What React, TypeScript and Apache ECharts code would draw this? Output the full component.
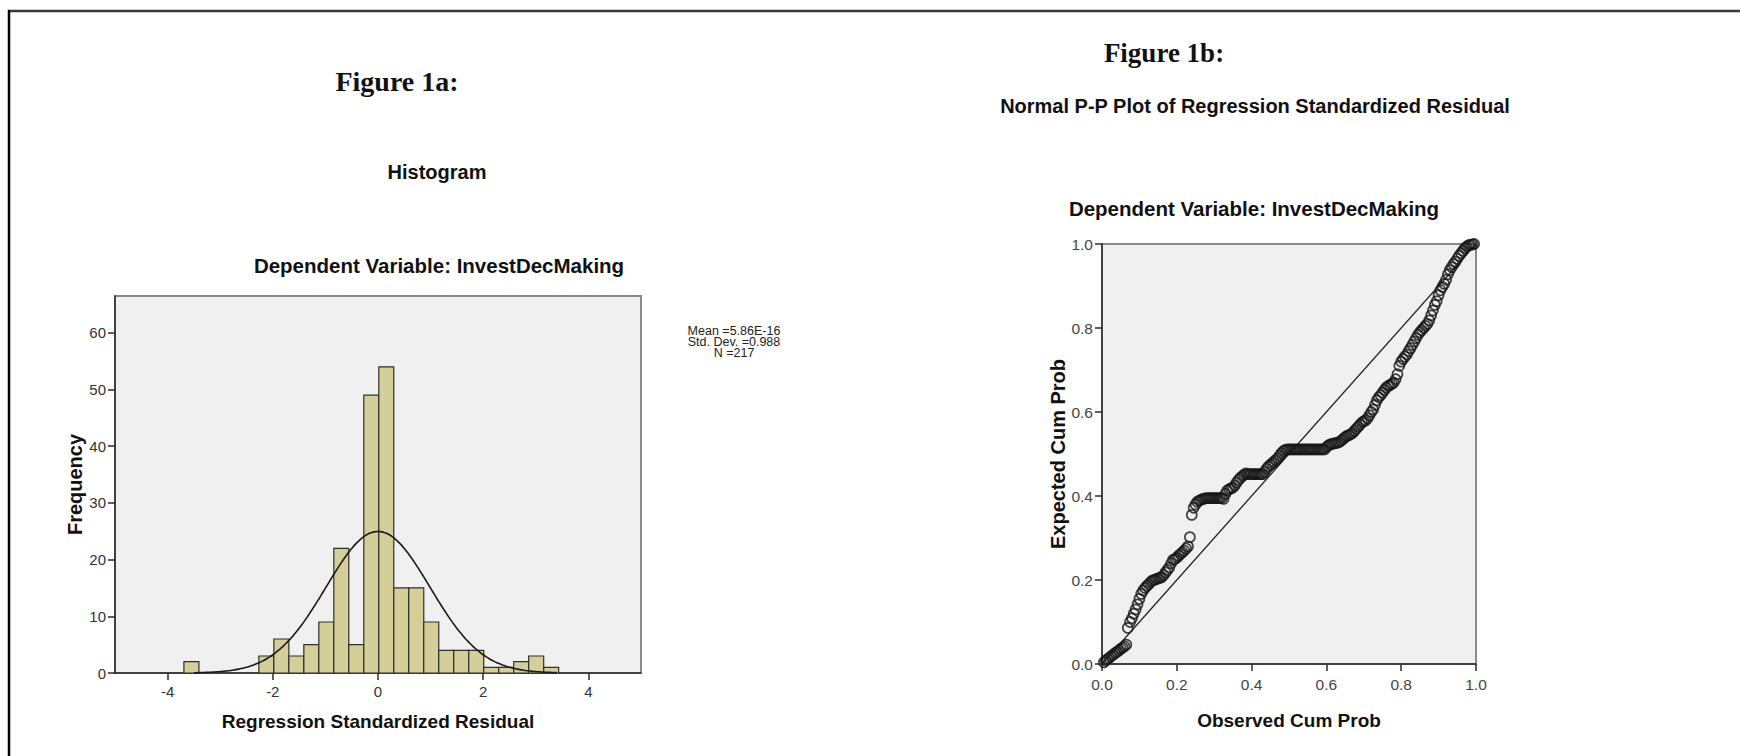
import React, { useEffect, useRef } from "react";
import * as echarts from "echarts";

// ---------- Histogram data (Figure 1a) ----------
const binStart = -3.69;
const binWidth = 0.285;
const binCounts = [2, 0, 0, 0, 0, 3, 6, 3, 5, 9, 22, 5, 49, 54, 15, 15, 9, 4, 4, 4, 1, 1, 2, 3, 1];
const histXTicks = [-4, -2, 0, 2, 4];
const histYTicks = [0, 10, 20, 30, 40, 50, 60];
const statMean = 5.86e-16;
const statSD = 0.988;
const statN = 217;
const statLines = ["Mean =5.86E-16", "Std. Dev. =0.988", "N =217"];

// ---------- P-P plot data (Figure 1b) ----------
const ppObs = [
  0.005, 0.01, 0.015, 0.02, 0.025, 0.03, 0.035, 0.04, 0.045, 0.05, 0.055, 0.06, 0.065,
  0.069, 0.075, 0.08, 0.085, 0.09, 0.095, 0.1, 0.105, 0.11, 0.115, 0.12, 0.125, 0.13, 0.135, 0.14, 0.145,
  0.15, 0.155, 0.16, 0.165, 0.17, 0.175, 0.18, 0.185, 0.19, 0.195, 0.2, 0.205, 0.21, 0.215, 0.22, 0.225,
  0.23, 0.235,
  0.24, 0.245, 0.25, 0.255, 0.26, 0.265, 0.27, 0.275, 0.28, 0.285, 0.29, 0.295, 0.3, 0.305, 0.31, 0.315,
  0.32, 0.325, 0.33, 0.335, 0.34, 0.345, 0.35, 0.355, 0.36, 0.365, 0.37, 0.375, 0.38, 0.385, 0.39, 0.395,
  0.4, 0.405, 0.41, 0.415, 0.42, 0.425, 0.43, 0.435, 0.44, 0.445, 0.45, 0.455, 0.46, 0.465, 0.47, 0.475,
  0.48, 0.485, 0.49, 0.495, 0.5, 0.505, 0.51, 0.515, 0.52, 0.525, 0.53, 0.535, 0.54, 0.545, 0.55, 0.555,
  0.56, 0.565, 0.57, 0.575, 0.58, 0.585, 0.59, 0.595, 0.6, 0.605, 0.61, 0.615, 0.62, 0.625, 0.63, 0.635,
  0.64, 0.645, 0.65, 0.655, 0.66, 0.665, 0.67, 0.675, 0.68, 0.685, 0.69, 0.695, 0.7, 0.705, 0.71, 0.715,
  0.72, 0.725, 0.73, 0.735, 0.74, 0.745, 0.75, 0.755, 0.76, 0.765, 0.77, 0.775, 0.78, 0.785, 0.79, 0.795,
  0.8, 0.805, 0.81, 0.815, 0.82, 0.825, 0.83, 0.835, 0.84, 0.845, 0.85, 0.855, 0.86, 0.865, 0.87, 0.875,
  0.88, 0.885, 0.89, 0.895, 0.9, 0.905, 0.91, 0.915, 0.92, 0.925, 0.93, 0.935, 0.94, 0.945, 0.95, 0.955,
  0.96, 0.965, 0.97, 0.975, 0.98, 0.985, 0.99, 0.995,
];
const ppExp = [
  0.004, 0.008, 0.012, 0.015, 0.019, 0.022, 0.026, 0.029, 0.032, 0.036, 0.039, 0.042, 0.046,
  0.086, 0.1, 0.109, 0.12, 0.13, 0.142, 0.155, 0.167, 0.175, 0.181, 0.186, 0.19, 0.195, 0.199, 0.2, 0.202,
  0.204, 0.205, 0.207, 0.212, 0.218, 0.224, 0.23, 0.24, 0.248, 0.25, 0.253, 0.258, 0.262, 0.266, 0.27, 0.275,
  0.28, 0.302,
  0.355, 0.372, 0.38, 0.386, 0.389, 0.391, 0.393, 0.394, 0.395, 0.395, 0.395, 0.395, 0.395, 0.395, 0.395, 0.395,
  0.395, 0.393, 0.405, 0.413, 0.416, 0.418, 0.42, 0.425, 0.432, 0.438, 0.443, 0.447, 0.451, 0.454, 0.452, 0.452,
  0.452, 0.452, 0.452, 0.452, 0.452, 0.452, 0.452, 0.458, 0.465, 0.47, 0.474, 0.478, 0.482, 0.486, 0.49, 0.496,
  0.502, 0.507, 0.51, 0.511, 0.511, 0.511, 0.511, 0.511, 0.511, 0.511, 0.511, 0.511, 0.511, 0.511, 0.511, 0.511,
  0.511, 0.511, 0.511, 0.511, 0.511, 0.511, 0.511, 0.511, 0.516, 0.52, 0.523, 0.524, 0.525, 0.526, 0.527, 0.529,
  0.532, 0.536, 0.54, 0.543, 0.545, 0.547, 0.55, 0.555, 0.56, 0.565, 0.57, 0.575, 0.578, 0.58, 0.585, 0.592,
  0.6, 0.606, 0.617, 0.628, 0.635, 0.64, 0.646, 0.652, 0.658, 0.662, 0.664, 0.667, 0.67, 0.678, 0.69, 0.71,
  0.72, 0.726, 0.732, 0.737, 0.745, 0.752, 0.76, 0.768, 0.776, 0.784, 0.79, 0.795, 0.8, 0.805, 0.81, 0.818,
  0.83, 0.842, 0.855, 0.864, 0.878, 0.89, 0.898, 0.905, 0.915, 0.928, 0.938, 0.945, 0.952, 0.958, 0.965, 0.972,
  0.978, 0.984, 0.99, 0.994, 0.997, 0.998, 0.999, 1.0,
];
const ppTicks = [0, 0.2, 0.4, 0.6, 0.8, 1.0];

const SANS = "'Liberation Sans', Arial, sans-serif";
const SERIF = "'Liberation Serif', 'Times New Roman', serif";

export default function App() {
  const ref = useRef<HTMLDivElement>(null);

  useEffect(() => {
    if (!ref.current) return;
    const chart = echarts.init(ref.current, undefined, { renderer: "svg" });

    const histData = binCounts
      .map((c, i) => [binStart + i * binWidth, binStart + (i + 1) * binWidth, c])
      .filter((d) => d[2] > 0);

    // normal curve fitted with the displayed mean / sd / N
    const curve: number[][] = [];
    for (let x = -3.5; x <= 3.4001; x += 0.05) {
      const z = (x - statMean) / statSD;
      curve.push([x, (statN * binWidth) / (statSD * Math.sqrt(2 * Math.PI)) * Math.exp(-0.5 * z * z)]);
    }

    const ppPoints = ppObs.map((x, i) => [x, ppExp[i]]);

    const axisLine = { show: true, onZero: false, lineStyle: { color: "#2a2a2a", width: 1.5 } };
    const axisTick = (vals: number[]) => ({
      show: true,
      inside: false,
      length: 7,
      customValues: vals,
      lineStyle: { color: "#2a2a2a", width: 1.5 },
    });

    const text = (x: number, y: number, t: string, size: number, weight: string, family: string, rotation = 0, color = "#111") => ({
      type: "text",
      x,
      y,
      rotation,
      style: {
        text: t,
        fontSize: size,
        fontWeight: weight,
        fontFamily: family,
        fill: color,
        align: "center",
        verticalAlign: "middle",
      },
    });

    chart.setOption({
      animation: false,
      backgroundColor: "#ffffff",
      grid: [
        { left: 115, top: 296, width: 526, height: 377, show: true, backgroundColor: "#f0f0f0", borderColor: "#8a8a8a", borderWidth: 2, containLabel: false },
        { left: 1102, top: 244, width: 374, height: 420, show: true, backgroundColor: "#f0f0f0", borderColor: "#8a8a8a", borderWidth: 2, containLabel: false },
      ],
      xAxis: [
        {
          gridIndex: 0,
          type: "value",
          min: -5,
          max: 5,
          splitLine: { show: false },
          axisLine,
          axisTick: axisTick(histXTicks),
          axisLabel: { customValues: histXTicks, fontSize: 15, color: "#333", fontFamily: SANS, margin: 11 },
          name: "Regression Standardized Residual",
          nameLocation: "middle",
          nameGap: 39,
          nameTextStyle: { fontSize: 19, fontWeight: "bold", color: "#111", fontFamily: SANS },
        },
        {
          gridIndex: 1,
          type: "value",
          min: 0,
          max: 1,
          splitLine: { show: false },
          axisLine,
          axisTick: axisTick(ppTicks),
          axisLabel: {
            customValues: ppTicks,
            formatter: (v: number) => v.toFixed(1),
            fontSize: 15.5,
            color: "#444",
            fontFamily: SANS,
            margin: 12,
          },
          name: "Observed Cum Prob",
          nameLocation: "middle",
          nameGap: 47,
          nameTextStyle: { fontSize: 19, fontWeight: "bold", color: "#111", fontFamily: SANS },
        },
      ],
      yAxis: [
        {
          gridIndex: 0,
          type: "value",
          min: 0,
          max: 66.5,
          splitLine: { show: false },
          axisLine,
          axisTick: axisTick(histYTicks),
          axisLabel: { customValues: histYTicks, fontSize: 15, color: "#333", fontFamily: SANS, margin: 9 },
          name: "Frequency",
          nameLocation: "middle",
          nameGap: 28,
          nameTextStyle: { fontSize: 20, fontWeight: "bold", color: "#111", fontFamily: SANS },
        },
        {
          gridIndex: 1,
          type: "value",
          min: 0,
          max: 1,
          splitLine: { show: false },
          axisLine,
          axisTick: axisTick(ppTicks),
          axisLabel: {
            customValues: ppTicks,
            formatter: (v: number) => v.toFixed(1),
            fontSize: 15.5,
            color: "#444",
            fontFamily: SANS,
            margin: 9,
          },
          name: "Expected Cum Prob",
          nameLocation: "middle",
          nameGap: 34,
          nameTextStyle: { fontSize: 20, fontWeight: "bold", color: "#111", fontFamily: SANS },
        },
      ],
      series: [
        {
          type: "custom",
          xAxisIndex: 0,
          yAxisIndex: 0,
          data: histData,
          encode: { x: [0, 1], y: 2 },
          renderItem: (params: any, api: any) => {
            const p0 = api.coord([api.value(0), 0]);
            const p1 = api.coord([api.value(1), api.value(2)]);
            return {
              type: "rect",
              shape: { x: p0[0], y: p1[1], width: p1[0] - p0[0], height: p0[1] - p1[1] },
              style: { fill: "#d4cf98", stroke: "#2e2e2e", lineWidth: 1.2 },
            };
          },
          z: 2,
        },
        {
          type: "line",
          xAxisIndex: 0,
          yAxisIndex: 0,
          data: curve,
          showSymbol: false,
          smooth: true,
          lineStyle: { color: "#1a1a1a", width: 1.6 },
          z: 3,
        },
        {
          type: "line",
          xAxisIndex: 1,
          yAxisIndex: 1,
          data: [
            [0, 0],
            [1, 1],
          ],
          showSymbol: false,
          lineStyle: { color: "#222", width: 1.3 },
          z: 2,
        },
        {
          type: "scatter",
          xAxisIndex: 1,
          yAxisIndex: 1,
          data: ppPoints,
          symbol: "circle",
          symbolSize: 10,
          itemStyle: { color: "rgba(0,0,0,0)", borderColor: "#161616", borderWidth: 1.7 },
          z: 3,
        },
      ],
      graphic: [
        { type: "line", shape: { x1: 8, y1: 11, x2: 1740, y2: 11 }, style: { stroke: "#3a3a3a", lineWidth: 2.5 } },
        { type: "line", shape: { x1: 9, y1: 10, x2: 9, y2: 756 }, style: { stroke: "#000", lineWidth: 2.5 } },
        text(397, 81, "Figure 1a:", 28, "bold", SERIF),
        text(1164, 53, "Figure 1b:", 27, "bold", SERIF),
        text(1255, 106, "Normal P-P Plot of Regression Standardized Residual", 20, "bold", SANS),
        text(437, 172, "Histogram", 20, "bold", SANS),
        text(439, 265, "Dependent Variable: InvestDecMaking", 20.5, "bold", SANS),
        text(1254, 208, "Dependent Variable: InvestDecMaking", 20.5, "bold", SANS),
        text(734, 331, statLines[0], 12.5, "normal", SANS, 0, "#222"),
        text(734, 342, statLines[1], 12.5, "normal", SANS, 0, "#222"),
        text(734, 353, statLines[2], 12.5, "normal", SANS, 0, "#222"),
      ],
    });

    return () => chart.dispose();
  }, []);

  return <div ref={ref} style={{ position: "absolute", left: 0, top: 0, width: 1740, height: 756 }} />;
}
